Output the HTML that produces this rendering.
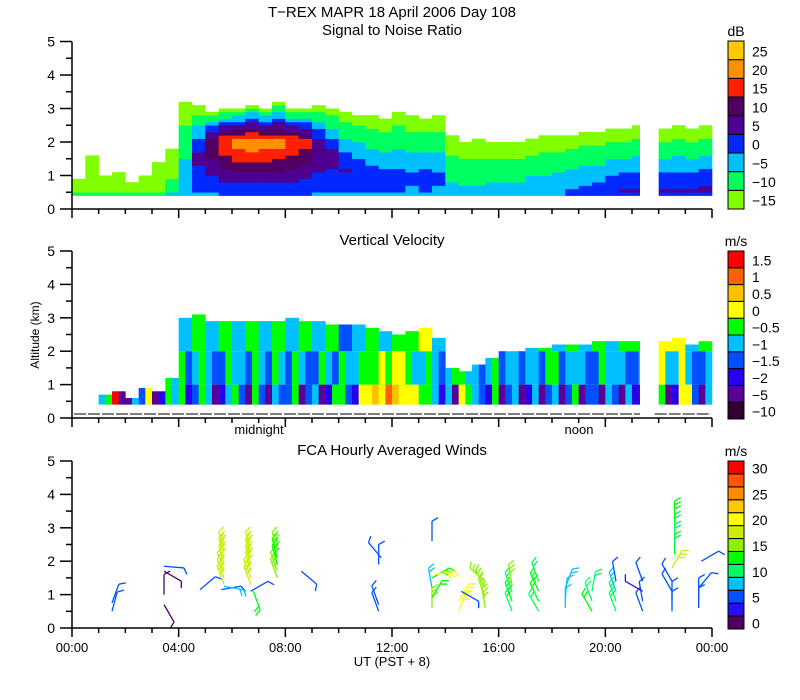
<!DOCTYPE html>
<html><head><meta charset="utf-8"><style>
html,body{margin:0;padding:0;background:#fff;}
svg{display:block;font-family:"Liberation Sans",sans-serif;}
text{fill:#000;}
</style></head><body>
<svg id="chart" width="800" height="700" viewBox="0 0 800 700" xmlns="http://www.w3.org/2000/svg">
<text x="392" y="17" font-size="15" text-anchor="middle">T−REX  MAPR 18 April 2006 Day 108</text>
<text x="392" y="35" font-size="15" text-anchor="middle">Signal to Noise Ratio</text>
<text x="392" y="245" font-size="15" text-anchor="middle">Vertical Velocity</text>
<text x="392" y="455" font-size="15" text-anchor="middle">FCA Hourly Averaged Winds</text>
<text x="39" y="335" font-size="12" text-anchor="middle" transform="rotate(-90 39 335)">Altitude (km)</text>
<text x="392" y="666" font-size="13" text-anchor="middle">UT   (PST + 8)</text>
<text x="259" y="434" font-size="13" text-anchor="middle">midnight</text>
<text x="579" y="434" font-size="13" text-anchor="middle">noon</text>
<g id="layer"></g>
</svg>
<script>
// ---- data ----
const hours = [0,0.5,1,1.5,2,2.5,3,3.5,4,4.5,5,5.5,6,6.5,7,7.5,8,8.5,9,9.5,10,10.5,11,11.5,12,12.5,13,13.5,14,14.5,15,15.5,16,16.5,17,17.5,18,18.5,19,19.5,20,20.5,21,21.5,22,22.5,23,23.5];
const snrTop = [0.9,1.6,1.0,1.1,0.8,1.0,1.4,1.8,3.2,3.1,2.9,3.0,3.0,3.1,3.0,3.2,3.0,3.0,3.1,3.0,2.9,2.8,2.8,2.7,2.9,2.8,2.7,2.8,2.2,2.0,2.1,2.0,2.0,2.0,2.1,2.2,2.2,2.2,2.3,2.3,2.4,2.4,2.5,0,2.4,2.5,2.4,2.5];
const snrPeak = [-15,-15,-15,-15,-15,-15,-14,-11,-5,4,12,18,21,22,21,20,18,15,8,5,3,1,0,-1,-1,-2,-1,-2,-6,-6,-6,-5,-5,-5,-4,-4,-3,-2,-1,0,2,3,3,0,3,3,3,4];
const snrCore = [0.5,0.5,0.5,0.5,0.5,0.5,0.5,0.5,1.0,1.6,2.0,2.0,2.0,2.0,2.0,2.0,2.0,2.0,1.8,1.6,1.2,1.2,1.0,1.0,1.0,1.0,1.0,1.0,0.5,0.5,0.5,0.5,0.5,0.5,0.5,0.5,0.5,0.5,0.5,0.5,0.5,0.5,0.5,0.5,0.5,0.5,0.5,0.5];
const velTop = [0,0,0.7,0.8,0.6,0.9,0.8,1.2,3.0,3.1,2.9,2.9,2.9,2.9,2.9,2.9,3.0,2.9,2.9,2.8,2.8,2.8,2.7,2.6,2.5,2.6,2.7,2.4,1.5,1.4,1.6,1.8,2.0,2.0,2.1,2.1,2.2,2.2,2.2,2.3,2.3,2.3,2.3,0,2.3,2.4,2.2,2.3];
const velLow = [-2,-1,-0.7,1.7,-5,-1.2,-2.5,-0.3,-0.2,-1.2,-0.7,-1.7,-0.4,-2.2,-1.1,-0.6,-1.3,-2.5,-0.8,-1.6,-0.4,-1.8,0.2,0.3,0.6,0.2,-0.3,-0.8,-0.6,0.3,-0.7,-1.7,-2.2,-0.8,-1.9,-2.5,-0.7,-1.4,-2.2,-1.2,-0.6,-2.3,-1.6,0,-0.4,-1.7,0.2,-2.2];
const velLow2 = [0,-1.2,-0.3,-2.2,-1,0.4,-1.6,-0.8,-1.7,-0.4,-2.3,-0.6,-1.4,-0.3,-2.4,-1.5,-0.5,-1.1,-2.1,-0.3,-1.3,0.1,0.7,1.2,0.1,0.4,-0.1,-1.6,-2.1,-0.2,-1.4,-0.5,-1.3,-2.4,-0.6,-1.2,-2.3,-0.5,-1.1,-2.6,-1.4,-0.7,-2.1,0,-2.1,0.3,-1.3,-0.6];
const velMid = [-0.7,-1,-0.8,0.1,-1.2,-0.9,-0.6,-0.2,-0.3,-0.8,-0.6,-1.1,-0.7,-1.3,-0.8,-0.4,-1.1,-0.6,-1.3,-0.7,-0.3,-0.9,-0.2,0.3,0.2,-0.3,-0.7,-0.6,-0.8,-0.4,-0.7,-0.6,-1.2,-0.7,-0.6,-1.1,-0.4,-0.8,-0.6,-1.2,-0.7,-0.6,-1.1,0,0.2,-0.6,-0.8,-1.3];
const velMid2 = [-0.4,-0.6,-1.2,-0.4,-0.7,-1.3,-0.2,-0.9,-1.1,-0.3,-1.2,-0.5,-0.9,-0.4,-1.4,-0.7,-0.5,-1.2,-0.4,-1.1,-0.6,-0.2,-0.4,-0.3,0.1,-0.8,-0.2,-1.1,-0.3,-0.9,-1.3,-0.4,-0.6,-1.4,-0.8,-0.4,-1.3,-0.6,-1.5,-0.5,-0.9,-1.3,-0.6,0,-0.7,0.1,-1.4,-0.6];
const velHigh = [0,0,0,0,0,0,0,0.3,-0.7,-0.2,-0.6,-0.3,-0.8,-0.4,-0.7,-0.3,-0.6,-0.2,-0.7,-0.4,-1.2,-0.6,-0.3,-0.8,-0.2,-0.5,0.2,-0.6,-0.3,0.1,-0.6,-0.2,-0.7,-0.3,-0.6,-0.2,-0.8,-0.4,-0.6,-0.3,-0.7,-0.2,-0.5,0,0.2,0.1,-0.6,-0.4];
const windHour = [1.5,1.5,3.45,3.45,3.45,3.45,4.8,5.7,5.7,5.7,5.7,5.7,5.7,5.6,5.7,6.7,6.7,6.7,6.7,6.7,6.7,6.7,6.8,7.7,7.7,7.7,7.7,7.7,8.6,11.5,11.5,11.5,11.6,13.5,13.5,13.5,13.5,13.5,13.6,14.5,14.5,14.6,15.5,15.5,15.5,15.5,16.5,16.5,16.5,16.5,17.5,17.5,17.5,17.5,18.5,18.5,18.5,19.5,19.5,19.5,20.4,20.4,20.4,20.4,21.4,21.4,21.4,21.4,22.5,22.5,22.5,22.5,22.5,22.6,22.6,22.6,22.6,23.5,23.5,23.5,23.6];
const windAlt = [0.5,0.75,1.85,1.7,1.0,0.7,1.15,1.3,1.5,1.7,1.9,2.1,2.3,1.15,1.25,1.3,1.5,1.7,1.9,2.1,2.3,1.1,1.1,1.5,1.7,1.9,2.1,2.3,1.7,0.5,0.7,1.9,2.1,2.6,0.6,0.9,1.2,1.5,1.6,0.5,0.8,1.1,0.6,0.9,1.2,1.4,0.5,0.8,1.1,1.3,0.5,0.8,1.1,1.4,0.6,0.9,1.2,0.5,0.8,1.1,0.5,0.8,1.1,1.4,0.5,0.8,1.1,1.4,0.5,0.8,1.1,1.4,1.8,2.2,2.5,2.8,3.2,0.6,0.9,1.2,2.0];
const windSpd = [5,5,4,1,1,1,5,18,18,17,18,17,18,6,8,17,18,17,18,17,17,5,12,14,14,13,13,14,5,4,5,5,5,5,14,12,8,13,19,19,19,5,16,15,16,15,10,13,11,14,10,12,13,11,7,7,8,12,11,9,9,9,8,6,5,4,2,5,5,5,4,5,18,12,11,10,13,4,5,6,5];
const windDir = [15,20,95,120,0,150,50,340,340,340,345,345,345,80,100,340,340,345,345,345,345,60,160,340,340,345,345,345,130,340,340,0,320,0,0,30,350,60,80,20,30,120,350,340,330,310,340,340,340,350,330,335,335,340,0,5,20,330,340,10,340,340,340,350,340,350,300,340,0,0,330,330,30,0,0,0,0,0,0,40,60];
const snrColors = ['#80ff00','#00ff60','#00c0ff','#0028ff','#500090','#500060','#ff2000','#ff9000','#ffc800'];
const snrLabels = ['-15','-10','-5','0','5','10','15','20','25'];
const velColors = ['#300030','#5a0096','#2800f0','#0050ff','#00c0ff','#00ff00','#ffff00','#ffc000','#ff6000','#ff0000'];
const velBreaks = [-10,-5,-2,-1.5,-1,-0.5,0,0.5,1,1.5];
const velLabels = ['-10','-5','-2','-1.5','-1','-0.5','0','0.5','1','1.5'];
const windColors = ['#500060','#2810f0','#0050ff','#00c0ff','#00ff64','#00ff00','#8cf000','#c8f000','#ffff00','#ffc800','#ff8c00','#ff5500','#ff0000'];
const windLabels = ['0','5','10','15','20','25','30'];
const xTickLabels = ['00:00','04:00','08:00','12:00','16:00','20:00','00:00'];

// ---- axes ----
const X0=72, X1=712;
const panels=[{base:209,top:41.5},{base:418,top:251},{base:628,top:461}];
const xs = h => X0 + h*(X1-X0)/24;
const ys = (p,km) => p.base - km*(p.base-p.top)/5;
const NS='http://www.w3.org/2000/svg';
const layer=document.getElementById('layer');
function mk(tag,attrs,parent){const e=document.createElementNS(NS,tag);for(const k in attrs)e.setAttribute(k,attrs[k]);(parent||layer).appendChild(e);return e;}

// SNR
const g1=mk('g',{});


hours.forEach((h,i)=>{
  const top=snrTop[i]; if(!top) return;
  for(let z=0.4; z<top-0.001; z+=0.1){
    const zc=z+0.05, core=snrCore[i], pk=snrPeak[i];
    let v;
    if(zc>=core) v = pk - (pk+16)*(zc-core)/Math.max(0.1,top-core);
    else v = pk - (pk+3)*(core-zc)/Math.max(0.1,core-0.4);
    const idx=Math.max(0,Math.min(8,Math.round((v+15)/5)));
    const r=mk('rect',{x:xs(h),y:ys(panels[0],z+0.1),width:xs(h+0.5)-xs(h)+0.3,height:ys(panels[0],z)-ys(panels[0],z+0.1)+0.3,fill:snrColors[idx]},g1);
    
    
  }
});
// Velocity
const g2=mk('g',{});


function velIdx(v){let k=0;for(let j=0;j<velBreaks.length;j++){if(v>=velBreaks[j])k=j;}return k;}
hours.forEach((h,i)=>{
  const top=velTop[i]; if(!top) return;
  const subs=[[h,velLow[i],velMid[i]],[h+0.25,velLow2[i],velMid2[i]]];
  subs.forEach(S=>{
    const layers=[[0.4,Math.min(1.0,top),S[1]],[1.0,Math.min(2.0,top),S[2]],[2.0,top,velHigh[i]]];
    layers.forEach(L=>{
      if(L[1]<=L[0]) return;
      const r=mk('rect',{x:xs(S[0]),y:ys(panels[1],L[1]),width:xs(S[0]+0.25)-xs(S[0])+0.3,height:ys(panels[1],L[0])-ys(panels[1],L[1]),fill:velColors[velIdx(L[2])]},g2);
      
      
    });
  });
});
// gaps
[0,1].forEach(k=>{const r=mk('rect',{x:xs(21.3),y:panels[k].top,width:xs(21.85)-xs(21.3),height:panels[k].base-panels[k].top-1,fill:'#fff'});

});
// dashes row panel 2
mk('line',{x1:X0+2,y1:414,x2:xs(21.3),y2:414,stroke:'#000','stroke-width':1,'stroke-dasharray':'12 2'});
mk('line',{x1:xs(21.85),y1:414,x2:X1-1,y2:414,stroke:'#000','stroke-width':1,'stroke-dasharray':'12 2'});

// Winds
const g3=mk('g',{});


windHour.forEach((h,i)=>{
  const x=xs(h), y=ys(panels[2],windAlt[i]);
  const d=windDir[i]*Math.PI/180, L=20;
  const ex=x+Math.sin(d)*L, ey=y-Math.cos(d)*L;
  const c=windColors[Math.max(0,Math.min(12,Math.round(windSpd[i]/2.5)))];
  const b=mk('g',{stroke:c,'stroke-width':1.3,fill:'none'},g3);
  
  
  mk('line',{x1:x,y1:y,x2:ex,y2:ey},b);
  const n=Math.max(1,Math.min(3,Math.round(windSpd[i]/5)));
  const fa=d+Math.PI/3;
  for(let k=0;k<n;k++){
    const t=1-k*0.2, px=x+Math.sin(d)*L*t, py=y-Math.cos(d)*L*t;
    mk('line',{x1:px,y1:py,x2:px+Math.sin(fa)*7,y2:py-Math.cos(fa)*7},b);
  }
});

// axes & ticks
panels.forEach((p,k)=>{
  const ax=mk('g',{stroke:'#000','stroke-width':1.5});
  
  
  mk('line',{x1:X0,y1:p.top,x2:X0,y2:p.base},ax);
  mk('line',{x1:X0,y1:p.base,x2:X1,y2:p.base},ax);
  for(let h=0;h<=24;h++){mk('line',{x1:xs(h),y1:p.base,x2:xs(h),y2:p.base+(h%4===0?9:5)},ax);}
  for(let z=0;z<=10;z++){const yy=ys(p,z/2);mk('line',{x1:X0-(z%2===0?12:6),y1:yy,x2:X0,y2:yy},ax);
    if(z%2===0){const t=mk('text',{x:X0-17,y:yy+5,'font-size':14,'text-anchor':'end'});t.textContent=String(z/2);
    
    }}
});
xTickLabels.forEach((s,i)=>{const t=mk('text',{x:xs(i*4),y:652,'font-size':13,'text-anchor':'middle'});t.textContent=s;

});

// colorbars
function colorbar(name,colors,top,bottom,labels,labelStep,unit){
  const g=mk('g',{});
  
  
  const n=colors.length,h=(bottom-top)/n;
  colors.forEach((c,i)=>{mk('rect',{x:728,y:bottom-(i+1)*h,width:16,height:h,fill:c,stroke:'#000','stroke-width':1},g);});
  labels.forEach((s,j)=>{const i=j*labelStep;const t=mk('text',{x:752,y:bottom-(i+0.5)*h+6,'font-size':14},g);t.textContent=s.replace('-','−');});
  const u=mk('text',{x:736,y:top-5,'font-size':14,'text-anchor':'middle'},g);u.textContent=unit;
}
colorbar('snr-colorbar',snrColors,41,209,snrLabels,1,'dB');
colorbar('velocity-colorbar',velColors,251,419,velLabels,1,'m/s');
colorbar('wind-colorbar',windColors,461,629,windLabels,2,'m/s');
</script>
</body></html>
